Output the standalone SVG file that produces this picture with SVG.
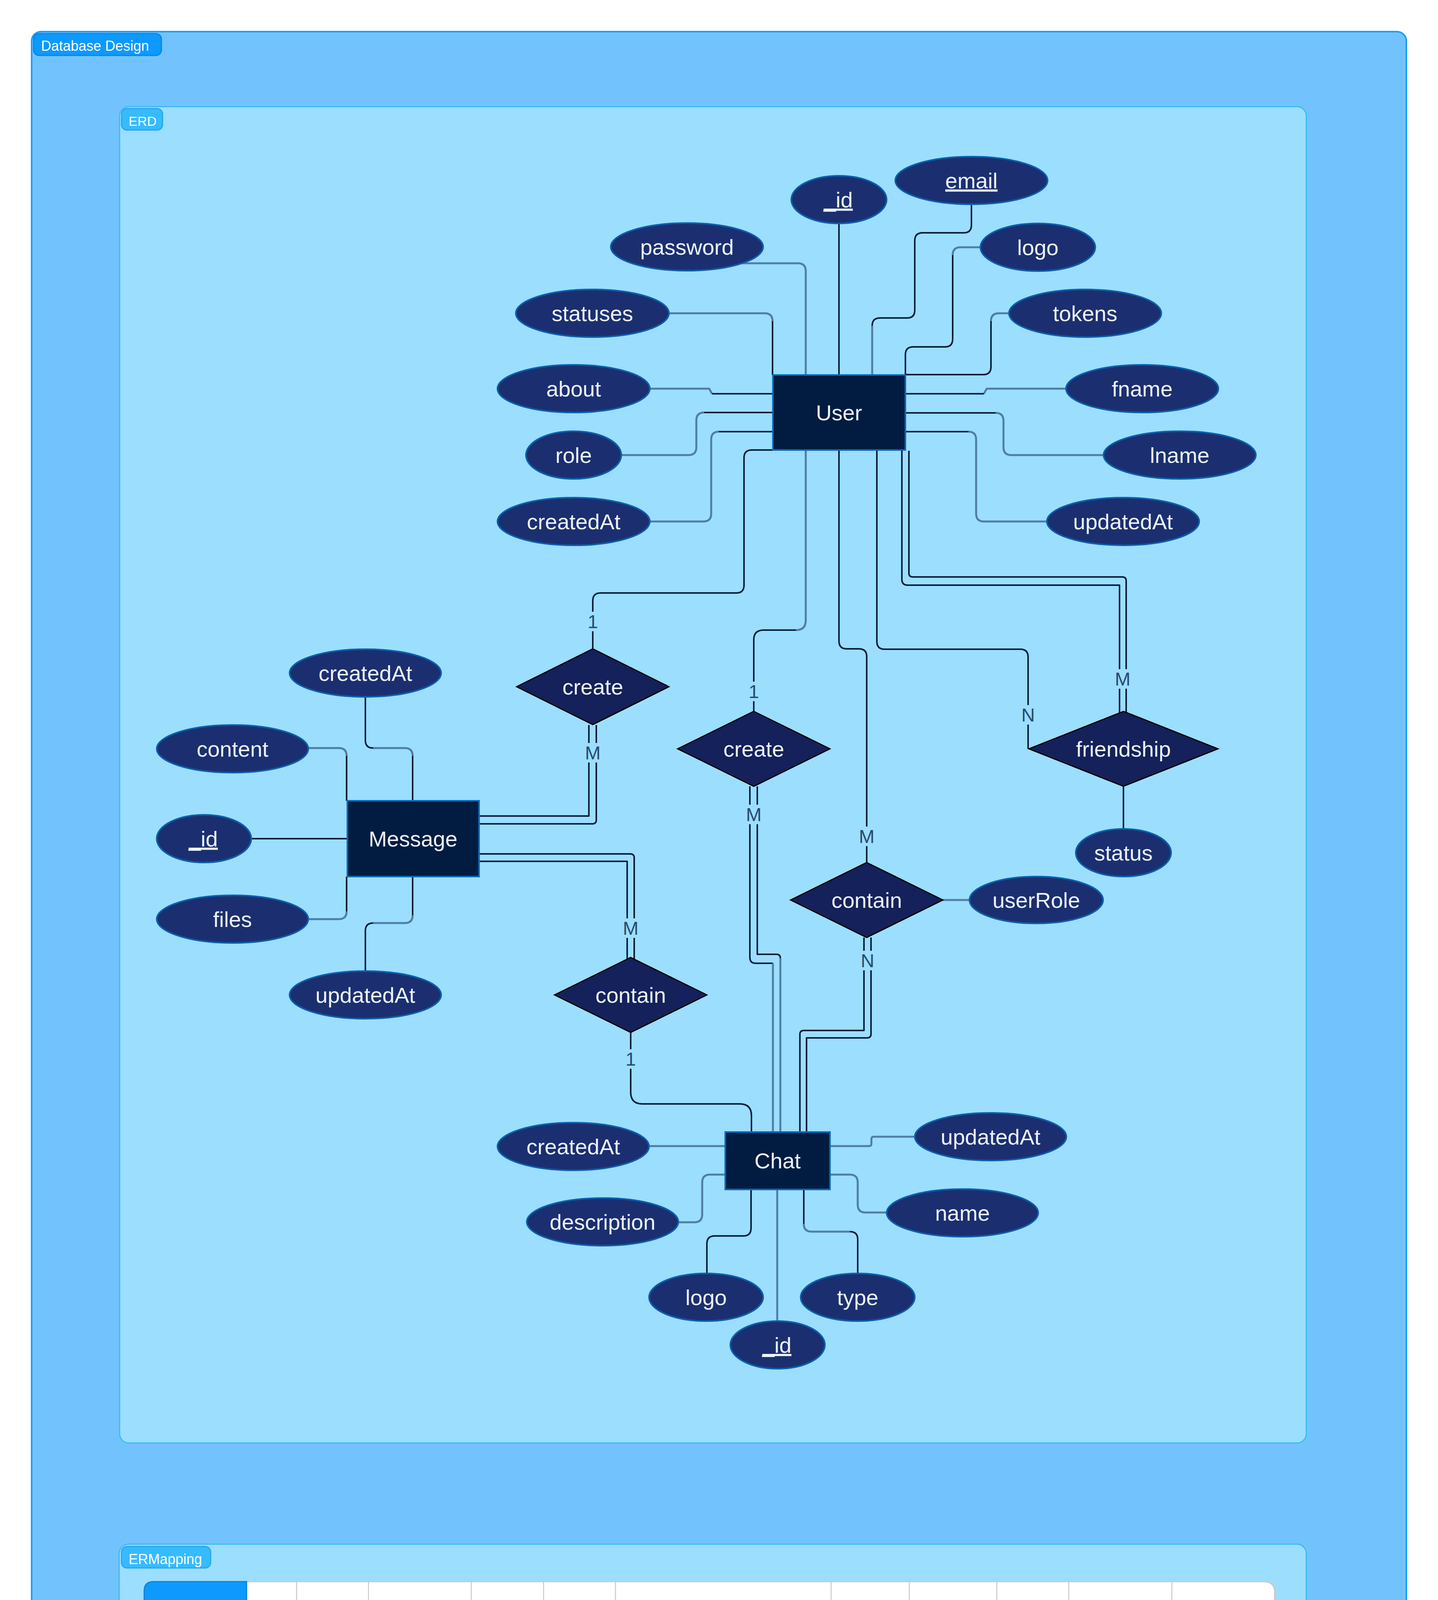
<svg xmlns="http://www.w3.org/2000/svg" width="3680" height="5376" viewBox="0 0 3680 5376">
<style>
.attr ellipse{fill:#1b2f70;stroke:#0b5fae;stroke-width:4}
.ent rect{fill:#011c40;stroke:#0b6ab8;stroke-width:4}
.rel polygon{fill:#14215a;stroke:#000;stroke-width:3}
.t{font-family:"Liberation Sans",Arial,Helvetica,sans-serif;font-size:56px;fill:#eef2f8;text-anchor:middle}
.u{text-decoration:underline}
.dk{stroke:#0b1e3d;stroke-width:4;fill:none;stroke-linejoin:round}
.gy{stroke:#4f7da6;stroke-width:5;fill:none;stroke-linejoin:round}
.lb rect{fill:#9bdefe}
.lb text{font-family:"Liberation Sans",Arial,sans-serif;font-size:48px;fill:#274a70;text-anchor:middle}
.tag{font-family:"Liberation Sans",Arial,sans-serif;font-size:36px;fill:#ffffff}
.row rect.bg{fill:#ffffff;stroke:#c8c8c8;stroke-width:3}
.row path.hd{fill:#0e99ff;stroke:#0b82dd;stroke-width:3}
.row line{stroke:#c8c8c8;stroke-width:2.5}
.row text{font-family:"Liberation Sans",Arial,sans-serif;font-size:34px;fill:#333333}
.row text.h{fill:#ffffff}
</style>

<!-- containers -->
<g id="database-design">
<rect x="81" y="81" width="3518" height="5214" rx="24" fill="#72c3fd" stroke="#1a9df8" stroke-width="4"/>
<rect x="86" y="86" width="327" height="56" rx="14" fill="#0d99ff" stroke="#0a86df" stroke-width="3"/>
<text class="tag" x="105" y="130">Database Design</text>
</g>
<g id="erd">
<rect x="306" y="273" width="3037" height="3421" rx="24" fill="#9bdefe" stroke="#3cbaf7" stroke-width="3"/>
<rect x="311" y="278" width="105" height="55" rx="14" fill="#36bbff" stroke="#2ba6ea" stroke-width="3"/>
<text class="tag" x="329" y="322" style="font-size:34px">ERD</text>
</g>
<g id="ermapping">
<rect x="305" y="3953" width="3038" height="1052" rx="24" fill="#9bdefe" stroke="#3cbaf7" stroke-width="3"/>
<rect x="311" y="3959" width="228" height="55" rx="14" fill="#36bbff" stroke="#2ba6ea" stroke-width="3"/>
<text class="tag" x="329" y="4004">ERMapping</text>
</g>

<!-- connectors -->
<g id="connectors">
<!-- User attributes -->
<path class="dk" d="M2147,572 V960"/>
<path class="gy" d="M1899,674 H2042 Q2062,674 2062,694 V960"/>
<path class="gy" d="M1712,802 H1957 Q1977,802 1977,822"/>
<path class="dk" d="M1977,822 V960"/>
<path class="gy" d="M1663,995 H1815 L1822,1008"/>
<path class="dk" d="M1822,1008 H1978"/>
<path class="gy" d="M1590,1165 H1762 Q1782,1165 1782,1145 V1076 Q1782,1056 1802,1056"/>
<path class="dk" d="M1802,1056 H1978"/>
<path class="gy" d="M1663,1335 H1800 Q1820,1335 1820,1315 V1125 Q1820,1105 1840,1105"/>
<path class="dk" d="M1840,1105 H1978"/>
<path class="dk" d="M2486,524 V576 Q2486,596 2466,596 H2361 Q2341,596 2341,616 V794 Q2341,814 2321,814 H2252 Q2232,814 2232,834"/>
<path class="gy" d="M2232,834 V960"/>
<path class="gy" d="M2509,633 H2458 Q2438,633 2438,653"/>
<path class="dk" d="M2438,653 V868 Q2438,888 2418,888 H2337 Q2317,888 2317,908 V960"/>
<path class="gy" d="M2582,802 H2556 Q2536,802 2536,822"/>
<path class="dk" d="M2536,822 V939 Q2536,959 2516,959 H2317"/>
<path class="gy" d="M2728,995 H2525 L2518,1008"/>
<path class="dk" d="M2518,1008 H2317"/>
<path class="gy" d="M2824,1165 H2588 Q2568,1165 2568,1145 V1077 Q2568,1057 2548,1057"/>
<path class="dk" d="M2548,1057 H2317"/>
<path class="gy" d="M2679,1335 H2518 Q2498,1335 2498,1315 V1125 Q2498,1105 2478,1105"/>
<path class="dk" d="M2478,1105 H2317"/>
<!-- User relationships -->
<path class="dk" d="M1978,1152 H1924 Q1904,1152 1904,1172 V1498 Q1904,1518 1884,1518 H1537 Q1517,1518 1517,1538 V1661"/>
<path class="gy" d="M2062,1152 V1588 Q2062,1613 2037,1613"/>
<path class="dk" d="M2037,1613 H1954 Q1929,1613 1929,1638 V1821"/>
<path class="dk" d="M2147,1152 V1641 Q2147,1661 2167,1661 H2198 Q2218,1661 2218,1681 V2208"/>
<path class="dk" d="M2244,1152 V1642 Q2244,1662 2264,1662 H2611 Q2631,1662 2631,1682 V1917"/>
<path class="dk" d="M2308,1152 V1483 Q2308,1498 2323,1498 H2865 V1825"/>
<path class="dk" d="M2326,1154 V1467 Q2326,1477 2336,1477 H2872 Q2882,1477 2882,1487 V1826"/>
<!-- Message relationships -->
<path class="dk" d="M1507,1856 V2089 H1226"/>
<path class="dk" d="M1526,1856 V2099 Q1526,2109 1516,2109 H1226"/>
<path class="dk" d="M1226,2186 H1613 Q1623,2186 1623,2196 V2456"/>
<path class="dk" d="M1226,2205 H1605 V2456"/>
<path class="dk" d="M1614,2643 V2796 Q1614,2826 1644,2826 H1893 Q1923,2826 1923,2856 V2898"/>
<!-- create2 to Chat -->
<path class="dk" d="M1919,2013 V2451 Q1919,2466 1934,2466 H1978"/>
<path class="gy" d="M1978,2466 V2898"/>
<path class="dk" d="M1938,2013 V2443 H1987 Q1997,2443 1997,2453"/>
<path class="gy" d="M1997,2453 V2898"/>
<!-- contain2 to Chat -->
<path class="dk" d="M2211,2400 V2638 H2057 Q2047,2638 2047,2648 V2898"/>
<path class="dk" d="M2229,2400 V2647 Q2229,2657 2219,2657 H2064 V2898"/>
<path class="gy" d="M2413,2304 H2481"/>
<path class="dk" d="M2875,2013 V2122"/>
<!-- Message attributes -->
<path class="dk" d="M935,1784 V1895 Q935,1915 955,1915"/>
<path class="gy" d="M955,1915 H1036 Q1056,1915 1056,1935"/>
<path class="dk" d="M1056,1935 V2050"/>
<path class="gy" d="M789,1915 H867 Q887,1915 887,1935"/>
<path class="dk" d="M887,1935 V2050"/>
<path class="dk" d="M643,2147 H889"/>
<path class="gy" d="M789,2353 H867 Q887,2353 887,2333"/>
<path class="dk" d="M887,2333 V2244"/>
<path class="dk" d="M935,2486 V2383 Q935,2363 955,2363"/>
<path class="gy" d="M955,2363 H1036 Q1056,2363 1056,2343"/>
<path class="dk" d="M1056,2343 V2244"/>
<!-- Chat attributes -->
<path class="gy" d="M1661,2934 H1856"/>
<path class="gy" d="M2124,2934 H2224 Q2230,2934 2230,2928 V2916 Q2230,2910 2236,2910 H2341"/>
<path class="gy" d="M1736,3129 H1777 Q1797,3129 1797,3109 V3027 Q1797,3007 1817,3007 H1856"/>
<path class="dk" d="M1809,3260 V3184 Q1809,3164 1829,3164 H1902 Q1922,3164 1922,3144 V3045"/>
<path class="gy" d="M1989,3045 V3381"/>
<path class="dk" d="M2195,3260 V3173 Q2195,3153 2175,3153"/>
<path class="gy" d="M2175,3153 H2077 Q2057,3153 2057,3133"/>
<path class="dk" d="M2057,3133 V3045"/>
<path class="gy" d="M2269,3104 H2215 Q2195,3104 2195,3084 V3027 Q2195,3007 2175,3007 H2124"/>
</g>

<!-- cardinality labels -->
<g id="labels" class="lb">
<rect x="1497" y="1566" width="40" height="50"/><text x="1517" y="1608">1</text>
<rect x="1491" y="1902" width="52" height="50"/><text x="1517" y="1944">M</text>
<rect x="1909" y="1745" width="40" height="50"/><text x="1929" y="1787">1</text>
<rect x="1903" y="2060" width="52" height="50"/><text x="1929" y="2102">M</text>
<rect x="2192" y="2116" width="52" height="50"/><text x="2218" y="2158">M</text>
<rect x="2194" y="2434" width="52" height="50"/><text x="2220" y="2476">N</text>
<rect x="2605" y="1805" width="52" height="50"/><text x="2631" y="1847">N</text>
<rect x="2847" y="1713" width="52" height="50"/><text x="2873" y="1755">M</text>
<rect x="1588" y="2351" width="52" height="50"/><text x="1614" y="2393">M</text>
<rect x="1594" y="2686" width="40" height="50"/><text x="1614" y="2728">1</text>
</g>

<!-- entities -->
<g id="user" class="ent"><rect x="1978" y="960" width="339" height="192"/><text class="t" x="2147" y="1076">User</text></g>
<g id="message" class="ent"><rect x="889" y="2050" width="337" height="194"/><text class="t" x="1057" y="2167">Message</text></g>
<g id="chat" class="ent"><rect x="1856" y="2898" width="268" height="147"/><text class="t" x="1990" y="2991">Chat</text></g>

<!-- relationships -->
<g id="rel-create-message" class="rel"><polygon points="1517,1661 1712,1758 1517,1855 1322,1758"/><text class="t" x="1517" y="1778">create</text></g>
<g id="rel-create-chat" class="rel"><polygon points="1929,1821 2124,1917 1929,2013 1734,1917"/><text class="t" x="1929" y="1937">create</text></g>
<g id="rel-friendship" class="rel"><polygon points="2875,1821 3117,1917 2875,2013 2633,1917"/><text class="t" x="2875" y="1937">friendship</text></g>
<g id="rel-contain-chatuser" class="rel"><polygon points="2218,2208 2413,2304 2218,2400 2023,2304"/><text class="t" x="2218" y="2324">contain</text></g>
<g id="rel-contain-message" class="rel"><polygon points="1614,2451 1809,2547 1614,2643 1419,2547"/><text class="t" x="1614" y="2567">contain</text></g>

<!-- User attributes -->
<g id="user-_id" class="attr"><ellipse cx="2147" cy="511" rx="122" ry="61"/><text class="t u" x="2145" y="531">_id</text></g>
<g id="user-email" class="attr"><ellipse cx="2486" cy="462" rx="195" ry="61"/><text class="t u" x="2486" y="482">email</text></g>
<g id="user-password" class="attr"><ellipse cx="1758" cy="632" rx="195" ry="61"/><text class="t" x="1758" y="652">password</text></g>
<g id="user-logo" class="attr"><ellipse cx="2656" cy="633" rx="147" ry="61"/><text class="t" x="2656" y="653">logo</text></g>
<g id="user-statuses" class="attr"><ellipse cx="1516" cy="802" rx="196" ry="61"/><text class="t" x="1516" y="822">statuses</text></g>
<g id="user-tokens" class="attr"><ellipse cx="2777" cy="802" rx="195" ry="61"/><text class="t" x="2777" y="822">tokens</text></g>
<g id="user-about" class="attr"><ellipse cx="1468" cy="995" rx="195" ry="61"/><text class="t" x="1468" y="1015">about</text></g>
<g id="user-fname" class="attr"><ellipse cx="2923" cy="995" rx="195" ry="61"/><text class="t" x="2923" y="1015">fname</text></g>
<g id="user-role" class="attr"><ellipse cx="1468" cy="1165" rx="122" ry="61"/><text class="t" x="1468" y="1185">role</text></g>
<g id="user-lname" class="attr"><ellipse cx="3019" cy="1165" rx="195" ry="61"/><text class="t" x="3019" y="1185">lname</text></g>
<g id="user-createdAt" class="attr"><ellipse cx="1468" cy="1335" rx="195" ry="61"/><text class="t" x="1468" y="1355">createdAt</text></g>
<g id="user-updatedAt" class="attr"><ellipse cx="2874" cy="1335" rx="195" ry="61"/><text class="t" x="2874" y="1355">updatedAt</text></g>

<!-- relationship attributes -->
<g id="friendship-status" class="attr"><ellipse cx="2875" cy="2183" rx="122" ry="61"/><text class="t" x="2875" y="2203">status</text></g>
<g id="chatuser-userRole" class="attr"><ellipse cx="2652" cy="2304" rx="171" ry="60"/><text class="t" x="2652" y="2324">userRole</text></g>

<!-- Message attributes -->
<g id="message-createdAt" class="attr"><ellipse cx="935" cy="1723" rx="194" ry="61"/><text class="t" x="935" y="1743">createdAt</text></g>
<g id="message-content" class="attr"><ellipse cx="595" cy="1917" rx="194" ry="61"/><text class="t" x="595" y="1937">content</text></g>
<g id="message-_id" class="attr"><ellipse cx="522" cy="2147" rx="121" ry="61"/><text class="t u" x="520" y="2167">_id</text></g>
<g id="message-files" class="attr"><ellipse cx="595" cy="2353" rx="194" ry="61"/><text class="t" x="595" y="2373">files</text></g>
<g id="message-updatedAt" class="attr"><ellipse cx="935" cy="2547" rx="194" ry="61"/><text class="t" x="935" y="2567">updatedAt</text></g>

<!-- Chat attributes -->
<g id="chat-createdAt" class="attr"><ellipse cx="1467" cy="2935" rx="194" ry="61"/><text class="t" x="1467" y="2955">createdAt</text></g>
<g id="chat-updatedAt" class="attr"><ellipse cx="2535" cy="2910" rx="194" ry="61"/><text class="t" x="2535" y="2930">updatedAt</text></g>
<g id="chat-description" class="attr"><ellipse cx="1542" cy="3128" rx="194" ry="61"/><text class="t" x="1542" y="3148">description</text></g>
<g id="chat-name" class="attr"><ellipse cx="2463" cy="3105" rx="194" ry="61"/><text class="t" x="2463" y="3125">name</text></g>
<g id="chat-logo" class="attr"><ellipse cx="1807" cy="3321" rx="146" ry="61"/><text class="t" x="1807" y="3341">logo</text></g>
<g id="chat-type" class="attr"><ellipse cx="2195" cy="3321" rx="146" ry="61"/><text class="t" x="2195" y="3341">type</text></g>
<g id="chat-_id" class="attr"><ellipse cx="1990" cy="3443" rx="121" ry="61"/><text class="t u" x="1988" y="3463">_id</text></g>

<!-- ER mapping tables -->
<g id="table-user" class="row">
<rect class="bg" x="369" y="4049" width="2893" height="126" rx="24"/>
<path class="hd" d="M393,4049 H631 V4175 H393 Q369,4175 369,4151 V4073 Q369,4049 393,4049 Z"/>
<line x1="759" y1="4049" x2="759" y2="4175"/><line x1="943" y1="4049" x2="943" y2="4175"/><line x1="1206" y1="4049" x2="1206" y2="4175"/><line x1="1391" y1="4049" x2="1391" y2="4175"/><line x1="1575" y1="4049" x2="1575" y2="4175"/><line x1="2127" y1="4049" x2="2127" y2="4175"/><line x1="2327" y1="4049" x2="2327" y2="4175"/><line x1="2551" y1="4049" x2="2551" y2="4175"/><line x1="2735" y1="4049" x2="2735" y2="4175"/><line x1="2999" y1="4049" x2="2999" y2="4175"/>
<text class="h" x="408" y="4124">User</text>
<text x="672" y="4124">_id</text><text x="800" y="4124">email</text><text x="985" y="4124">password</text><text x="1247" y="4124">fname</text><text x="1432" y="4124">lname</text><text x="1616" y="4124">role(admin - moderator - user)</text><text x="2168" y="4124">logo</text><text x="2368" y="4124">statuses</text><text x="2592" y="4124">tokens</text><text x="2776" y="4124">createdAt</text><text x="3040" y="4124">updatedAt</text>
</g>
<g id="table-friendship" class="row">
<rect class="bg" x="369" y="4241" width="1949" height="126" rx="24"/>
<path class="hd" d="M393,4241 H623 V4367 H393 Q369,4367 369,4343 V4265 Q369,4241 393,4241 Z"/>
<line x1="751" y1="4241" x2="751" y2="4367"/><line x1="943" y1="4241" x2="943" y2="4367"/><line x1="1135" y1="4241" x2="1135" y2="4367"/><line x1="1807" y1="4241" x2="1807" y2="4367"/><line x1="2063" y1="4241" x2="2063" y2="4367"/>
<text class="h" x="408" y="4316">FriendShip</text>
<text x="664" y="4316">_id</text><text x="792" y="4316">user1</text><text x="984" y="4316">user2</text><text x="1176" y="4316">status(pending - rejected - accepted)</text><text x="1848" y="4316">createdAt</text><text x="2104" y="4316">updatedAt</text>
</g>
<g id="table-chat" class="row">
<rect class="bg" x="369" y="4433" width="2077" height="126" rx="24"/>
<path class="hd" d="M393,4433 H623 V4559 H393 Q369,4559 369,4535 V4457 Q369,4433 393,4433 Z"/>
<line x1="751" y1="4433" x2="751" y2="4559"/><line x1="943" y1="4433" x2="943" y2="4559"/><line x1="1199" y1="4433" x2="1199" y2="4559"/><line x1="1359" y1="4433" x2="1359" y2="4559"/><line x1="1774" y1="4433" x2="1774" y2="4559"/><line x1="1935" y1="4433" x2="1935" y2="4559"/><line x1="2191" y1="4433" x2="2191" y2="4559"/>
<text class="h" x="408" y="4508">Chat</text>
<text x="664" y="4508">_id</text><text x="792" y="4508">name</text><text x="984" y="4508">description</text><text x="1240" y="4508">logo</text><text x="1400" y="4508">type(group - private)</text><text x="1815" y="4508">user</text><text x="1976" y="4508">createdAt</text><text x="2232" y="4508">updatedAt</text>
</g>
<g id="table-chatuser" class="row">
<rect class="bg" x="369" y="4625" width="1822" height="126" rx="24"/>
<path class="hd" d="M393,4625 H623 V4751 H393 Q369,4751 369,4727 V4649 Q369,4625 393,4625 Z"/>
<line x1="751" y1="4625" x2="751" y2="4751"/><line x1="910" y1="4625" x2="910" y2="4751"/><line x1="1071" y1="4625" x2="1071" y2="4751"/><line x1="1679" y1="4625" x2="1679" y2="4751"/><line x1="1935" y1="4625" x2="1935" y2="4751"/>
<text class="h" x="408" y="4700">ChatUser</text>
<text x="664" y="4700">_id</text><text x="792" y="4700">user</text><text x="951" y="4700">chat</text><text x="1112" y="4700">userRole(admin, moderator, user)</text><text x="1720" y="4700">createdAt</text><text x="1976" y="4700">updatedAt</text>
</g>
<g id="table-message" class="row">
<rect class="bg" x="369" y="4817" width="1597" height="126" rx="24"/>
<path class="hd" d="M393,4817 H623 V4943 H393 Q369,4943 369,4919 V4841 Q369,4817 393,4817 Z"/>
<line x1="751" y1="4817" x2="751" y2="4943"/><line x1="975" y1="4817" x2="975" y2="4943"/><line x1="1135" y1="4817" x2="1135" y2="4943"/><line x1="1295" y1="4817" x2="1295" y2="4943"/><line x1="1455" y1="4817" x2="1455" y2="4943"/><line x1="1710" y1="4817" x2="1710" y2="4943"/>
<text class="h" x="408" y="4892">Message</text>
<text x="664" y="4892">_id</text><text x="792" y="4892">content</text><text x="1016" y="4892">files</text><text x="1176" y="4892">chat</text><text x="1336" y="4892">user</text><text x="1496" y="4892">createdAt</text><text x="1751" y="4892">updatedAt</text>
</g>
</svg>
